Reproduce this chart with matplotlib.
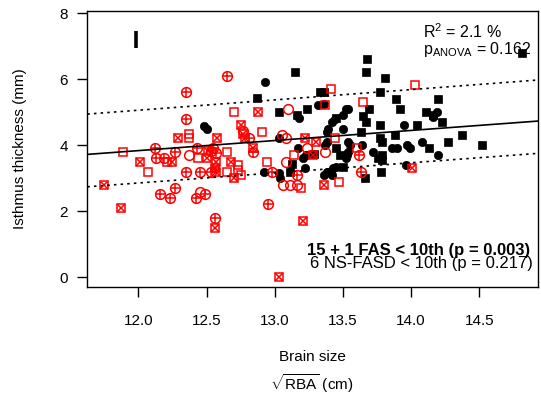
# -*- coding: utf-8 -*-
"""Isthmus thickness vs brain size (sqrt RBA), with fit line and percentile band."""
import matplotlib
matplotlib.use("Agg")
import matplotlib.pyplot as plt
import numpy as np

plt.rcParams["font.family"] = ["Liberation Sans", "DejaVu Sans"]
plt.rcParams["mathtext.fontset"] = "custom"
plt.rcParams["mathtext.rm"] = "Liberation Sans"
plt.rcParams["mathtext.it"] = "Liberation Sans:italic"

# --- data ------------------------------------------------------------------
# controls: black filled squares / circles
sq_x = [12.87, 13.03, 13.15, 13.16, 13.24, 13.11, 13.13, 13.33, 13.36, 13.45,
        13.68, 13.67, 13.81, 13.77, 13.89, 14.20, 14.81, 13.69, 13.92, 14.11,
        14.16, 14.23, 13.65, 13.67, 13.77, 14.04, 13.63, 13.88, 13.77, 13.79,
        14.37, 14.27, 14.52, 14.13, 13.45, 13.48, 13.79, 13.76, 13.79, 13.50,
        13.66, 13.78, 13.29]
sq_y = [5.43, 5.01, 6.22, 4.91, 5.11, 3.20, 3.45, 5.62, 5.62, 4.82,
        6.62, 6.22, 6.03, 5.62, 5.42, 5.42, 6.81, 5.10, 5.10, 5.02,
        4.91, 4.72, 4.90, 4.71, 4.62, 4.62, 4.40, 4.31, 4.21, 4.11,
        4.31, 4.11, 4.01, 3.91, 3.91, 3.71, 3.72, 3.61, 3.55, 3.35,
        3.02, 3.20, 3.74]
ci_x = [12.48, 12.50, 12.93, 13.18, 13.03, 13.32, 13.52, 13.54, 13.50, 13.44,
        13.42, 13.50, 13.39, 13.38, 13.95, 14.19, 14.16, 13.38, 13.37, 13.54,
        13.55, 13.64, 13.17, 13.21, 13.23, 13.22, 13.52, 13.54, 13.53, 13.72,
        13.86, 13.90, 13.97, 13.99, 14.08, 14.20, 13.96, 13.43, 13.45, 13.38,
        13.42, 13.36, 12.92, 13.03, 13.04, 13.36]
ci_y = [4.58, 4.49, 5.92, 4.82, 4.21, 5.22, 5.11, 5.11, 4.91, 4.81,
        4.71, 4.50, 4.50, 4.41, 4.61, 5.01, 4.87, 4.11, 4.01, 4.11,
        4.01, 4.01, 3.91, 3.61, 3.71, 3.30, 3.62, 3.81, 3.71, 3.81,
        3.91, 3.91, 4.01, 3.91, 4.11, 3.71, 3.42, 3.32, 3.35, 3.20,
        3.10, 3.10, 3.20, 3.15, 3.00, 5.24]

# FASD groups: red open squares, open circles, circle-plus, square-cross
rsq_x = [12.70, 13.41, 14.03, 13.37, 13.65, 12.91, 12.37, 12.37, 11.89, 12.44,
         12.07, 12.21, 12.65, 12.65, 12.73, 12.73, 12.75, 12.94, 13.14, 13.19,
         13.44, 13.60, 13.47]
rsq_y = [5.01, 5.72, 5.82, 5.21, 5.31, 4.40, 4.33, 4.21, 3.81, 3.61,
         3.20, 3.50, 3.81, 3.20, 3.40, 3.25, 3.10, 3.50, 3.71, 2.70,
         4.21, 3.91, 2.90]
rci_x = [13.10, 12.37, 13.05, 13.08, 13.24, 12.45, 13.08, 13.06, 13.11, 13.16,
         13.37, 12.77]
rci_y = [5.11, 3.71, 4.31, 4.21, 3.91, 2.60, 3.50, 2.80, 2.80, 2.80,
         3.81, 4.44]
rcp_x = [12.65, 12.35, 12.35, 12.12, 12.43, 12.27, 12.13, 12.19, 12.35, 12.45,
         12.53, 12.27, 12.16, 12.23, 12.42, 12.49, 12.56, 12.95, 12.81, 12.84,
         12.98, 13.16, 13.62, 13.63, 12.53, 12.57, 12.55]
rcp_y = [6.11, 5.62, 4.81, 3.91, 3.91, 3.81, 3.61, 3.61, 3.20, 3.20,
         3.20, 2.71, 2.52, 2.40, 2.40, 2.52, 1.81, 2.21, 4.23, 3.81,
         3.20, 3.10, 3.71, 3.20, 3.83, 3.76, 3.92]
rsx_x = [12.88, 12.29, 12.58, 12.75, 12.77, 13.22, 13.30, 12.01, 12.25, 12.50,
         12.57, 12.56, 12.57, 12.68, 12.70, 12.84, 13.28, 13.36, 14.01, 11.75,
         11.87, 12.56, 13.21, 13.03, 12.51, 12.78]
rsx_y = [5.01, 4.21, 4.21, 4.62, 4.33, 4.21, 4.11, 3.50, 3.50, 3.61,
         3.50, 3.30, 3.20, 3.50, 3.00, 3.93, 3.71, 2.81, 3.30, 2.80,
         2.09, 1.49, 1.71, 0.00, 3.83, 4.23]

# regression line and percentile band: (intercept, slope)
fit_line = (0.174, 0.3056)
upper_line = (1.315, 0.3125)
lower_line = (-0.818, 0.3065)

# measurement error bar
err_x, err_lo, err_hi = 11.985, 6.95, 7.45

x_ticks = [12.0, 12.5, 13.0, 13.5, 14.0, 14.5]
y_ticks = [0, 2, 4, 6, 8]
x_lim = (11.626, 14.928)
y_lim = (-0.30, 8.08)

RED = "#ff0000"


def main():
    fig = plt.figure(figsize=(5.41, 3.99), dpi=100)
    ax = fig.add_axes([0.1614, 0.2799, 0.8325, 0.6933])

    ax.plot(sq_x, sq_y, ls="none", marker="s", ms=6.0, mfc="black", mec="black", mew=0.5)
    ax.plot(ci_x, ci_y, ls="none", marker="o", ms=6.0, mfc="black", mec="black", mew=0.5)

    kw = dict(ls="none", mfc="none", mec=RED, mew=1.1)
    ax.plot(rsq_x, rsq_y, marker="s", ms=6.3, **kw)
    ax.plot(rci_x, rci_y, marker="o", ms=7.0, **kw)
    ax.plot(rcp_x, rcp_y, marker="o", ms=7.0, **kw)
    ax.plot(rcp_x, rcp_y, marker="+", ms=7.0, **kw)
    ax.plot(rsx_x, rsx_y, marker="s", ms=6.3, **kw)
    ax.plot(rsx_x, rsx_y, marker="x", ms=6.3, **kw)

    xs = np.array(x_lim)
    for (b0, b1), ls in [(fit_line, "-"), (upper_line, (0, (1.5, 2.5))), (lower_line, (0, (1.5, 2.5)))]:
        ax.plot(xs, b0 + b1 * xs, color="black", lw=1.2, ls=ls)

    ax.plot([err_x, err_x], [err_lo, err_hi], color="black", lw=2.6, solid_capstyle="butt")

    ax.set_xlim(*x_lim)
    ax.set_ylim(*y_lim)
    ax.set_xticks(x_ticks)
    ax.set_xticklabels([f"{v:.1f}" for v in x_ticks])
    ax.set_yticks(y_ticks)
    ax.tick_params(direction="out", length=7, width=1.0, labelsize=11, pad=12, colors="black")
    ax.tick_params(axis="y", pad=7)
    for s in ax.spines.values():
        s.set_linewidth(1.0)

    ax.text(0.745, 0.901, r"R$^2$ = 2.1 %", transform=ax.transAxes, fontsize=11.5,
            ha="left", va="baseline")
    ax.text(0.745, 0.842, r"p$_{\mathrm{ANOVA}}$ = 0.162", transform=ax.transAxes, fontsize=11.5,
            ha="left", va="baseline")
    ax.text(0.983, 0.116, "15 + 1 FAS < 10th (p = 0.003)", transform=ax.transAxes,
            fontsize=12, fontweight="bold", ha="right", va="baseline")
    ax.text(0.9896, 0.070, "6 NS-FASD < 10th (p = 0.217)", transform=ax.transAxes,
            fontsize=12, ha="right", va="baseline")

    fig.text(0.037, 0.627, "Isthmus thickness (mm)", rotation=90, fontsize=11,
             ha="center", va="center")
    fig.text(0.577, 0.105, "Brain size", fontsize=11, ha="center", va="center")
    fig.text(0.577, 0.038, r"$\sqrt{\mathrm{RBA}}$ (cm)", fontsize=11, ha="center", va="center")

    fig.savefig("out.png", dpi=100, facecolor="white")
    plt.close(fig)


if __name__ == "__main__":
    main()
